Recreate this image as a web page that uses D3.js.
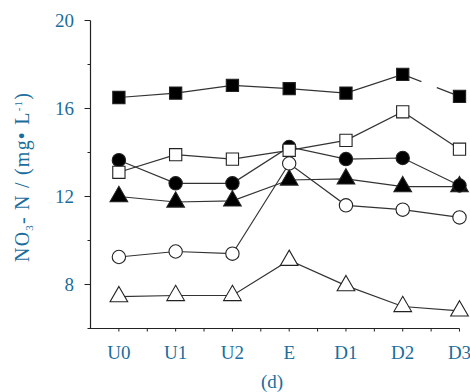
<!DOCTYPE html>
<html>
<head>
<meta charset="utf-8">
<script src="https://cdn.jsdelivr.net/npm/d3@7"></script>
<style>
  body { margin: 0; background: #fff; }
</style>
</head>
<body>
<div id="container"></div>
<script>
// sites along x axis
const sites = ['U0', 'U1', 'U2', 'E', 'D1', 'D2', 'D3'];
const yTicks = [8, 12, 16, 20];

// series values (NO3-N, mg/L)
const filledSquare = [16.5, 16.7, 17.05, 16.9, 16.7, 17.55, 16.55];
const openSquare = [13.1, 13.9, 13.7, 14.1, 14.55, 15.85, 14.15];
const filledCircle = [13.65, 12.6, 12.6, 14.25, 13.7, 13.75, 12.5];
const filledTriangle = [12.0, 11.75, 11.8, 12.75, 12.8, 12.45, 12.45];
const openCircle = [9.25, 9.5, 9.4, 13.5, 11.6, 11.4, 11.05];
const openTriangle = [7.45, 7.5, 7.5, 9.1, 7.95, 7.0, 6.8];

const series = [
  { values: openTriangle, shape: d3.symbolTriangle, fill: '#fff' },
  { values: openCircle, shape: d3.symbolCircle, fill: '#fff' },
  { values: filledTriangle, shape: d3.symbolTriangle, fill: '#000' },
  { values: filledCircle, shape: d3.symbolCircle, fill: '#000' },
  { values: openSquare, shape: d3.symbolSquare, fill: '#fff' },
  { values: filledSquare, shape: d3.symbolSquare, fill: '#000' }
];

const width = 470, height = 392;
const blue = '#1a6d9c';
const svg = d3.select('#container').append('svg')
  .attr('width', width)
  .attr('height', height)
  .attr('font-family', 'Liberation Serif');

const x = d3.scaleLinear().domain([-0.5, 6]).range([90.5, 459.5]);
const y = d3.scaleLinear().domain([6, 20]).range([328.5, 20.5]);

// axes
svg.append('line')
  .attr('x1', x(-0.5)).attr('x2', x(-0.5))
  .attr('y1', y(20)).attr('y2', y(6))
  .attr('stroke', '#222').attr('stroke-width', 1.2);
svg.append('line')
  .attr('x1', x(-0.5) - 3).attr('x2', x(6))
  .attr('y1', y(6)).attr('y2', y(6))
  .attr('stroke', '#222').attr('stroke-width', 1.2);

// y ticks
svg.selectAll('.ytick')
  .data(d3.range(8, 21, 2))
  .enter()
  .append('line')
  .attr('x1', x(-0.5))
  .attr('x2', d => d % 4 === 0 ? x(-0.5) - 6 : x(-0.5) - 3)
  .attr('y1', d => y(d)).attr('y2', d => y(d))
  .attr('stroke', '#222');

svg.selectAll('.ylabel')
  .data(yTicks)
  .enter()
  .append('text')
  .attr('x', 74)
  .attr('y', d => y(d) + 6)
  .attr('text-anchor', 'end')
  .attr('fill', blue)
  .style('font-size', '19px')
  .text(d => d);

// x ticks
svg.selectAll('.xtick')
  .data(d3.range(0, 6.01, 0.5))
  .enter()
  .append('line')
  .attr('x1', d => x(d)).attr('x2', d => x(d))
  .attr('y1', y(6)).attr('y2', y(6) + 3)
  .attr('stroke', '#222');

svg.selectAll('.xlabel')
  .data(sites)
  .enter()
  .append('text')
  .attr('x', (d, i) => x(i))
  .attr('y', 359)
  .attr('text-anchor', 'middle')
  .attr('fill', blue)
  .style('font-size', '19px')
  .text(d => d);

svg.append('text')
  .attr('x', 272)
  .attr('y', 388)
  .attr('text-anchor', 'middle')
  .attr('fill', blue)
  .style('font-size', '19px')
  .text('(d)');

// y axis title
const title = svg.append('text')
  .attr('transform', 'translate(29,262) rotate(-90)')
  .attr('text-anchor', 'start')
  .attr('fill', blue)
  .attr('textLength', 169)
  .attr('lengthAdjust', 'spacing')
  .style('font-size', '20px');
title.append('tspan').text('NO');
title.append('tspan').attr('dy', 4).style('font-size', '11px').text('3');
title.append('tspan').attr('dy', -4).text('- N /  (mg\u2022 L');
title.append('tspan').attr('dy', -7).style('font-size', '11px').text('-1');
title.append('tspan').attr('dy', 7).text(')');

// lines
const line = d3.line()
  .x((d, i) => x(i))
  .y(d => y(d));

series.forEach(s => {
  svg.append('path')
    .attr('d', line(s.values))
    .attr('fill', 'none')
    .attr('stroke', '#333')
    .attr('stroke-width', 1.2);
});

// gap in the filled square line between D2 and D3
svg.append('line')
  .attr('x1', x(5.33)).attr('x2', x(5.6))
  .attr('y1', y(17.55 - (17.55 - 16.55) * 0.33)).attr('y2', y(17.55 - (17.55 - 16.55) * 0.6))
  .attr('stroke', '#fff').attr('stroke-width', 4);

// markers
series.forEach(s => {
  const size = s.shape === d3.symbolTriangle ? 135 : (s.shape === d3.symbolSquare ? 150 : 140);
  svg.selectAll(null)
    .data(s.values)
    .enter()
    .append('path')
    .attr('d', d3.symbol().type(s.shape).size(size))
    .attr('transform', (d, i) => `translate(${x(i)},${y(d)})`)
    .attr('fill', s.fill)
    .attr('stroke', '#222')
    .attr('stroke-width', 1.1);
});
</script>
</body>
</html>
